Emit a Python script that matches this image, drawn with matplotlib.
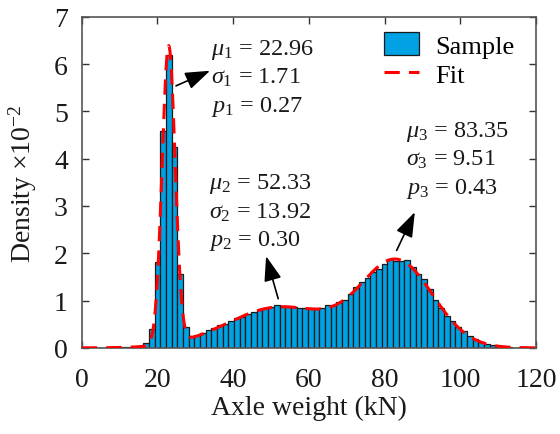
import numpy as np
import matplotlib
matplotlib.use("Agg")
import matplotlib.pyplot as plt

# histogram of axle weights, bin width 1.5 kN, first bin centred on 2 kN
bin_start = 1.25
bin_width = 1.5
density = [
    0.0, 0.0, 0.0, 0.005, 0.005, 0.01, 0.01, 0.015, 0.02, 0.04,
    0.10, 0.40, 1.82, 4.59, 6.20, 4.24, 1.56, 0.45, 0.26, 0.27,
    0.32, 0.37, 0.42, 0.49, 0.51, 0.56, 0.64, 0.66, 0.71, 0.75,
    0.80, 0.85, 0.87, 0.90, 0.89, 0.87, 0.87, 0.85, 0.84, 0.84,
    0.83, 0.84, 0.90, 0.91, 0.96, 1.02, 1.14, 1.28, 1.39, 1.47,
    1.61, 1.66, 1.78, 1.87, 1.83, 1.83, 1.86, 1.72, 1.57, 1.45,
    1.25, 1.02, 0.84, 0.68, 0.56, 0.44, 0.35, 0.26, 0.19, 0.13,
    0.09, 0.06, 0.04, 0.02, 0.01, 0.005, 0.003, 0.002,
]

# fitted three-component gaussian mixture
mu = [22.96, 52.33, 83.35]
sigma = [1.71, 13.92, 9.51]
weight = [0.27, 0.30, 0.43]

plt.rcParams["font.family"] = ["Liberation Serif", "DejaVu Serif"]
plt.rcParams["mathtext.fontset"] = "custom"
plt.rcParams["mathtext.rm"] = "Liberation Serif"
plt.rcParams["mathtext.it"] = "Liberation Serif:italic"

fig = plt.figure(figsize=(5.6, 4.35), dpi=100)
ax = fig.add_axes([0.146, 0.198, 0.811, 0.761])

centers = bin_start + bin_width / 2 + bin_width * np.arange(len(density))
bars = ax.bar(centers, density, width=bin_width, color="#00A2E3",
              edgecolor="#1a1a1a", linewidth=0.9, label="Sample", zorder=2)

x = np.linspace(0, 120, 1200)
fit = np.zeros_like(x)
for m, s, w in zip(mu, sigma, weight):
    fit += w / (s * np.sqrt(2 * np.pi)) * np.exp(-0.5 * ((x - m) / s) ** 2)
line, = ax.plot(x, fit * 100, color="red", lw=2.2, ls=(0, (5, 3)),
                label="Fit", zorder=3)

ax.set_xlim(0, 120)
ax.set_ylim(0, 7)
ax.set_xticks(range(0, 121, 20))
ax.set_yticks(range(0, 8))
ax.tick_params(direction="in", top=True, right=True, labelsize=20,
               length=5, width=1, colors="#333333", labelcolor="#1a1a1a")
ax.tick_params(axis="x", pad=14)
ax.tick_params(axis="y", pad=10)
for sp in ax.spines.values():
    sp.set_color("#555555")
    sp.set_linewidth(1.2)

ax.set_xlabel("Axle weight (kN)", fontsize=20, color="#1a1a1a", labelpad=2)
ax.set_ylabel(r"Density $\times$10$^{-2}$", fontsize=20, color="#1a1a1a",
              labelpad=11)

labels = [
    (34.2, 6.58, 1, "22.96", "1.71", "0.27"),
    (33.6, 3.74, 2, "52.33", "13.92", "0.30"),
    (85.6, 4.85, 3, "83.35", "9.51", "0.43"),
]
for lx, ly, i, m_txt, s_txt, p_txt in labels:
    txt = (rf"$\mu_{{\mathit{{{i}}}}}$ = {m_txt}" + "\n"
           + rf"$\sigma_{{\mathit{{{i}}}}}$ = {s_txt}" + "\n"
           + rf"$p_{{\mathit{{{i}}}}}$ = {p_txt}")
    ax.text(lx, ly, txt, fontsize=17.5, va="top", ha="left",
            linespacing=1.32, color="#1a1a1a")

arrows = [
    ((24.9, 5.54), (33.9, 5.86)),
    ((51.9, 1.04), (48.7, 1.94)),
    ((83.2, 2.06), (88.0, 2.87)),
]
for tail, head in arrows:
    ax.annotate("", xy=head, xytext=tail,
                arrowprops=dict(arrowstyle="-|>,head_length=0.85,head_width=0.3",
                                mutation_scale=18, color="black", lw=1.2,
                                shrinkA=0, shrinkB=0))

ax.legend([bars, line], ["Sample", "Fit"], loc="upper left",
          bbox_to_anchor=(0.665, 0.955), frameon=False,
          fontsize=19, handlelength=1.35, handleheight=1.0, handletextpad=0.6,
          labelspacing=0.15, borderpad=0, borderaxespad=0)

fig.savefig("out.png", dpi=100)
